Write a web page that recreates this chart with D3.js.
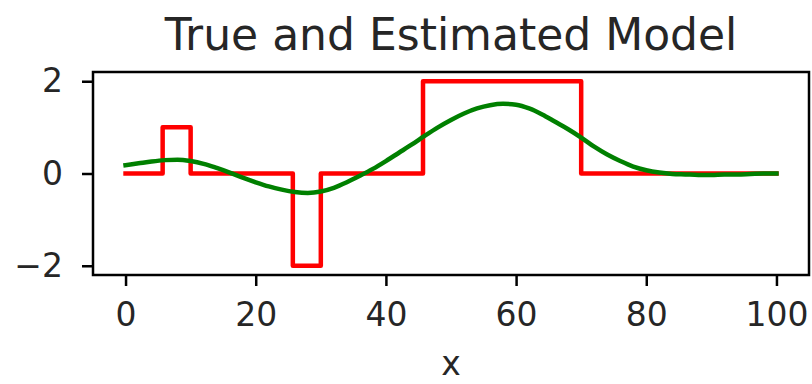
<!DOCTYPE html>
<html lang="en">

<head>
	<meta charset="utf-8"/>
	<title>True and Estimated Model</title>
	<script src="https://d3js.org/d3.v7.min.js"></script>
	<style>
		body { margin: 0; background: white; }
		text { font-family: "DejaVu Sans", sans-serif; fill: #262626; }
	</style>
</head>

<body>

<script>
// the data
    var trueX = [0, 5.7, 5.7, 10, 10, 25.7, 25.7, 30, 30, 45.7, 45.7, 70, 70, 100];
    var trueY = [0, 0, 1, 1, 0, 0, -2, -2, 0, 0, 2, 2, 0, 0];

    var estX = [0, 2, 4, 6, 8, 10, 12, 14, 16, 18, 20, 22, 24, 26, 28, 30, 32, 34, 36, 38, 40,
                42, 44, 46, 48, 50, 52, 54, 56, 58, 60, 62, 64, 66, 68, 70, 72, 74, 76, 78, 80,
                82, 84, 86, 88, 90, 92, 94, 96, 98, 100];
    var estY = [0.18, 0.22, 0.26, 0.29, 0.30, 0.27, 0.21, 0.12, 0.02, -0.09, -0.19, -0.28, -0.35, -0.40, -0.42, -0.39, -0.31, -0.19, -0.05, 0.10, 0.27,
                0.45, 0.63, 0.82, 1.0, 1.16, 1.30, 1.41, 1.48, 1.51, 1.49, 1.41, 1.28, 1.12, 0.96, 0.78, 0.58, 0.41, 0.27, 0.15, 0.07,
                0.02, -0.01, -0.02, -0.03, -0.03, -0.02, -0.02, -0.01, 0.0, 0.0];

    var xTicks = [0, 20, 40, 60, 80, 100];
    var yTicks = [-2, 0, 2];

// SVG measurements (note: "top" is taken by window.top, so use plotTop)
    var w = 812;
    var h = 384;
    var plotLeft = 93, plotRight = 809, plotTop = 72, plotBottom = 275;

    var svg = d3.select("body")
                .append("svg")
                .attr("width", w)
                .attr("height", h);

    var xScale = d3.scaleLinear()
                    .domain([-5, 105])
                    .range([plotLeft, plotRight]);

    var yScale = d3.scaleLinear()
                    .domain([-2.2, 2.2])
                    .range([plotBottom, plotTop]);

// axes
    var xAxis = d3.axisBottom(xScale)
                    .tickValues(xTicks)
                    .tickSize(11)
                    .tickPadding(17)
                    .tickFormat(d3.format("d"));

    var yAxis = d3.axisLeft(yScale)
                    .tickValues(yTicks)
                    .tickSize(11)
                    .tickPadding(19)
                    .tickFormat(function (d) {return d < 0 ? "\u2212" + Math.abs(d) : d;});

    svg.append("g")
        .attr("transform", "translate(0," + plotBottom + ")")
        .call(xAxis);

    svg.append("g")
        .attr("transform", "translate(" + plotLeft + ",0)")
        .call(yAxis);

    svg.selectAll(".domain").remove();
    svg.selectAll(".tick line").attr("stroke", "#000").attr("stroke-width", 2.5);
    svg.selectAll(".tick text")
        .attr("font-size", 33)
        .attr("font-family", "DejaVu Sans")
        .attr("fill", "#262626");

// lines
    var line = d3.line()
                 .x(function (d) {return xScale(d[0]);})
                 .y(function (d) {return yScale(d[1]);});

    svg.append("path")
        .datum(d3.zip(trueX, trueY))
        .attr("fill", "none")
        .attr("stroke", "#ff0000")
        .attr("stroke-width", 4.5)
        .attr("stroke-linejoin", "round")
        .attr("stroke-linecap", "square")
        .attr("d", line);

    svg.append("path")
        .datum(d3.zip(estX, estY))
        .attr("fill", "none")
        .attr("stroke", "#008000")
        .attr("stroke-width", 4.5)
        .attr("stroke-linecap", "square")
        .attr("d", line.curve(d3.curveMonotoneX));

// frame
    svg.append("rect")
        .attr("x", plotLeft)
        .attr("y", plotTop)
        .attr("width", plotRight - plotLeft)
        .attr("height", plotBottom - plotTop)
        .attr("fill", "none")
        .attr("stroke", "#000")
        .attr("stroke-width", 2.5);

// labels
    svg.append("text")
        .attr("x", (plotLeft + plotRight) / 2)
        .attr("y", 50)
        .attr("text-anchor", "middle")
        .attr("font-size", 44)
        .text("True and Estimated Model");

    svg.append("text")
        .attr("x", (plotLeft + plotRight) / 2)
        .attr("y", 375)
        .attr("text-anchor", "middle")
        .attr("font-size", 33)
        .text("x");
</script>

</body>
</html>
